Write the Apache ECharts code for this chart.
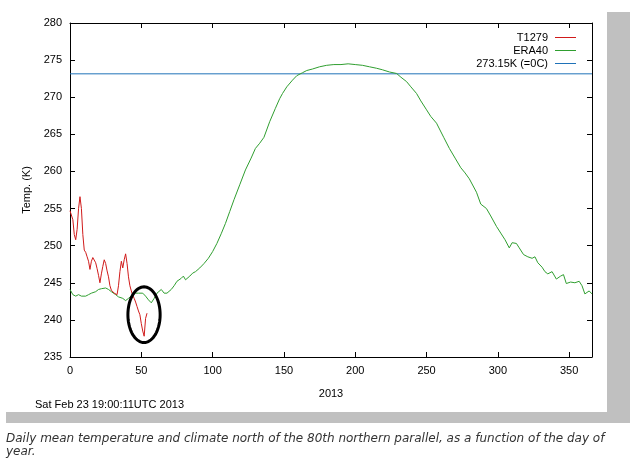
<!DOCTYPE html>
<html>
<head>
<meta charset="utf-8">
<script src="https://cdn.jsdelivr.net/npm/echarts@6/dist/echarts.min.js"></script>
<style>
  html, body { margin: 0; padding: 0; background: #ffffff; }
  #shadow { position: absolute; left: 6px; top: 12px; width: 624px; height: 411px; background: #c0c0c0; }
  #paper { position: absolute; left: 0; top: 0; width: 607px; height: 412px; background: #ffffff; }
  #chart { position: absolute; left: 0; top: 0; width: 630px; height: 462px; }
</style>
</head>
<body>
<div id="shadow"></div>
<div id="paper"></div>
<div id="chart"></div>
<script>
// ---- data ----
const seriesNames = ['T1279', 'ERA40', '273.15K (=0C)'];

const t1279Days = [0,1,2,3,4,5,6,7,8,9,10,11,12,13,14,15,16,17,18,19,20,21,22,23,24,25,26,27,28,29,30,31,32,33,34,35,36,37,38,39,40,41,42,43,44,45,46,47,48,49,50,51,52,53,54];
const t1279Temps = [254.7,254.9,253.5,251.5,250.8,252.2,255.0,256.6,255.0,251.5,249.4,249.1,248.5,247.9,246.8,247.9,248.4,248.6,247.7,246.9,246.0,245.0,246.2,247.2,248.1,247.6,246.6,245.8,244.6,244.0,243.8,243.6,243.5,243.4,244.6,246.5,247.9,247.0,248.1,248.9,247.6,245.8,244.6,243.9,243.3,242.9,242.4,241.8,241.2,240.7,239.5,238.5,237.8,240.2,240.9];

const era40Days = [0,2,4,6,8,9,11,13,15,18,20,22,25,27,29,32,34,37,39,41,44,46,48,51,53,55,57,59,61,64,66,68,71,73,75,78,79.5,81,84,86,88,91,94,97,100,103,106,109,112,115,119,123,127,130,133,136,140,144,147,149,152,156,159,163,166,170,175,180,185,190,195,200,205,210,215,219,224,229,232,236,239,243,246,250,253,257,262,266,270,274,277,280,285,288,292,295,299,302,305,308,310,313,315,318,321,324,326,328,331,333,335,338,341,344,346,348,351,354,357,359,361,364,366];
const era40Temps = [244.1,243.4,243.2,243.4,243.2,243.4,243.2,243.4,243.6,243.8,244.1,244.2,244.3,244.1,243.8,243.4,243.1,242.9,242.6,242.9,243.4,243.6,243.6,243.6,243.2,242.7,242.3,242.9,243.6,244.1,243.6,243.6,244.1,244.6,245.2,245.6,245.9,245.4,245.9,246.3,246.5,247.0,247.6,248.3,249.2,250.3,251.6,253.0,254.6,256.2,258.2,260.2,261.8,263.1,263.8,264.6,266.7,268.5,269.8,270.5,271.4,272.3,272.9,273.3,273.6,273.8,274.1,274.3,274.4,274.4,274.5,274.4,274.3,274.1,273.9,273.7,273.4,273.2,272.7,272.1,271.4,270.5,269.5,268.3,267.4,266.5,264.6,263.1,261.8,260.5,259.8,259.0,257.2,255.6,255.0,254.0,252.6,251.7,250.8,249.7,250.4,250.3,249.7,248.8,248.5,248.3,248.5,247.7,247.1,246.5,246.2,246.5,245.5,245.9,246.1,244.9,245.1,245.0,245.2,244.6,243.5,243.9,243.5];

const freezingDays = [0, 366];
const freezingTemp = 273.15;

const xTickValues = [0,50,100,150,200,250,300,350];
const yTickValues = [235,240,245,250,255,260,265,270,275,280];

const xAxisTitle = '2013';
const yAxisTitle = 'Temp. (K)';
const stampText = 'Sat Feb 23 19:00:11UTC 2013';
const captionText = 'Daily mean temperature and climate north of the 80th northern parallel, as a function of the day of\nyear.';

// hand-drawn ellipse annotation (in data units)
const circled = { day: 51.9, temp: 240.7, halfDays: 11.3, halfK: 3.75 };

// ---- chart ----
const chart = echarts.init(document.getElementById('chart'), null, { renderer: 'canvas' });
const tickFont = { fontFamily: 'Liberation Sans', fontSize: 11, color: '#000' };

const pair = (xs, ys) => xs.map((x, i) => [x, ys[i]]);

const option = {
  animation: false,
  backgroundColor: 'transparent',
  grid: { left: 70, right: 38, top: 23, bottom: 105, show: false },
  legend: {
    orient: 'vertical',
    right: 49,
    top: 27,
    align: 'right',
    itemWidth: 21,
    itemHeight: 1,
    itemGap: 2,
    icon: 'rect',
    textStyle: { fontFamily: 'Liberation Sans', fontSize: 11, color: '#000', padding: [0, 2, 0, 0] },
    data: seriesNames
  },
  xAxis: [
    {
      type: 'value', min: xTickValues[0], max: 366, interval: 50, position: 'bottom',
      name: xAxisTitle, nameLocation: 'middle', nameGap: 31,
      nameTextStyle: tickFont,
      axisLine: { show: true, onZero: false, lineStyle: { color: '#000', width: 1 } },
      axisTick: { show: true, inside: true, length: 5, lineStyle: { color: '#000' } },
      axisLabel: { ...tickFont, margin: 8, showMaxLabel: false,
        formatter: v => (xTickValues.indexOf(v) >= 0 ? String(v) : '') },
      splitLine: { show: false }
    },
    {
      type: 'value', min: xTickValues[0], max: 366, interval: 50, position: 'top',
      axisLine: { show: true, onZero: false, lineStyle: { color: '#000', width: 1 } },
      axisTick: { show: true, inside: true, length: 5, lineStyle: { color: '#000' } },
      axisLabel: { show: false },
      splitLine: { show: false }
    }
  ],
  yAxis: [
    {
      type: 'value', min: yTickValues[0], max: yTickValues[yTickValues.length - 1], interval: 5, position: 'left',
      name: yAxisTitle, nameLocation: 'middle', nameGap: 34, nameRotate: 90,
      nameTextStyle: tickFont,
      axisLine: { show: true, onZero: false, lineStyle: { color: '#000', width: 1 } },
      axisTick: { show: true, inside: true, length: 5, lineStyle: { color: '#000' } },
      axisLabel: { ...tickFont, margin: 8 },
      splitLine: { show: false }
    },
    {
      type: 'value', min: yTickValues[0], max: yTickValues[yTickValues.length - 1], interval: 5, position: 'right',
      axisLine: { show: true, onZero: false, lineStyle: { color: '#000', width: 1 } },
      axisTick: { show: true, inside: true, length: 5, lineStyle: { color: '#000' } },
      axisLabel: { show: false },
      splitLine: { show: false }
    }
  ],
  series: [
    {
      name: seriesNames[0], type: 'line', data: pair(t1279Days, t1279Temps),
      showSymbol: false, symbol: 'none', color: '#d01a1a',
      lineStyle: { width: 1, color: '#d01a1a' }, z: 4
    },
    {
      name: seriesNames[1], type: 'line', data: pair(era40Days, era40Temps),
      showSymbol: false, symbol: 'none', color: '#2f9e2f',
      lineStyle: { width: 1, color: '#2f9e2f' }, z: 3
    },
    {
      name: seriesNames[2], type: 'line', data: freezingDays.map(d => [d, freezingTemp]),
      showSymbol: false, symbol: 'none', color: '#1f72b8',
      lineStyle: { width: 1, color: '#1f72b8' }, z: 2
    },
    {
      name: 'annotation', type: 'custom', clip: false, z: 5,
      data: [[circled.day, circled.temp, circled.halfDays, circled.halfK]],
      renderItem: function (params, api) {
        const cx = api.value(0), cy = api.value(1), rx = api.value(2), ry = api.value(3);
        const pts = [];
        for (let i = 0; i < 72; i++) {
          const t = i / 72 * Math.PI * 2;
          pts.push(api.coord([cx + rx * Math.cos(t), cy + ry * Math.sin(t)]));
        }
        return { type: 'polygon', shape: { points: pts, smooth: 0 },
          style: { fill: null, stroke: '#000', lineWidth: 3 } };
      }
    }
  ],
  graphic: [
    { type: 'text', left: 35, top: 399,
      style: { text: stampText, font: '11px "Liberation Sans"', fill: '#000' } },
    { type: 'text', left: 6, top: 432,
      style: { text: captionText, font: 'oblique 12px "DejaVu Sans"', fill: '#333', lineHeight: 13 } }
  ]
};
chart.setOption(option);
</script>
</body>
</html>
